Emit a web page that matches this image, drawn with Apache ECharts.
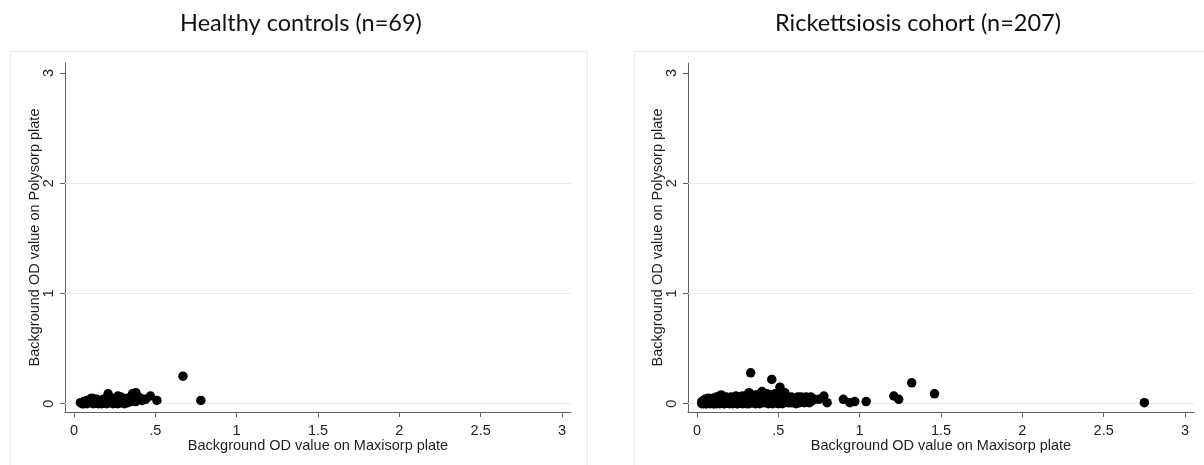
<!DOCTYPE html>
<html>
<head>
<meta charset="utf-8">
<script src="https://cdn.jsdelivr.net/npm/echarts@6/dist/echarts.min.js"></script>
<style>html,body{margin:0;padding:0;background:#fff}#c{width:1204px;height:465px}</style>
</head>
<body>
<div id="c"></div>
<script>
// ---- Data ----
const panelTitles = ['Healthy controls (n=69)', 'Rickettsiosis cohort (n=207)'];
const xAxisTitle = 'Background OD value on Maxisorp plate';
const yAxisTitle = 'Background OD value on Polysorp plate';
const xTicks = [0, 0.5, 1, 1.5, 2, 2.5, 3];
const yTicks = [0, 1, 2, 3];
const gridValues = [0, 1, 2];

const healthyPoints = [
  [0.04,0.01],[0.05,0.00],[0.06,0.02],[0.07,0.01],[0.08,0.03],[0.08,0.00],[0.09,0.02],[0.10,0.04],[0.10,0.01],[0.11,0.05],
  [0.11,0.02],[0.12,0.00],[0.12,0.03],[0.13,0.01],[0.14,0.02],[0.14,0.04],[0.15,0.00],[0.15,0.02],[0.16,0.01],[0.17,0.03],
  [0.17,0.00],[0.18,0.02],[0.18,0.04],[0.19,0.01],[0.19,0.03],[0.20,0.00],[0.20,0.05],[0.21,0.09],[0.21,0.02],[0.22,0.01],
  [0.22,0.04],[0.23,0.02],[0.24,0.00],[0.24,0.03],[0.25,0.01],[0.25,0.05],[0.26,0.02],[0.27,0.07],[0.27,0.00],[0.28,0.03],
  [0.28,0.05],[0.29,0.01],[0.30,0.02],[0.30,0.04],[0.31,0.00],[0.32,0.02],[0.32,0.03],[0.33,0.01],[0.33,0.05],[0.34,0.04],
  [0.35,0.02],[0.35,0.06],[0.36,0.09],[0.36,0.03],[0.37,0.05],[0.38,0.10],[0.38,0.02],[0.39,0.07],[0.40,0.04],[0.41,0.05],
  [0.42,0.03],[0.44,0.04],[0.47,0.07],[0.51,0.03],[0.67,0.25],[0.78,0.03],[0.13,0.04],[0.29,0.06],[0.06,0.00]
];

const rickettsiosisPoints = [
  [0.33,0.28],[0.46,0.22],[0.51,0.15],[0.54,0.10],[0.90,0.04],[0.94,0.01],[0.97,0.02],[1.04,0.02],[1.21,0.07],[1.24,0.04],
  [1.32,0.19],[1.46,0.09],[2.75,0.01],[0.78,0.07],[0.80,0.01],[0.75,0.04],
  [0.03,0.00],[0.03,0.02],[0.04,0.01],[0.04,0.03],[0.04,0.00],[0.05,0.02],[0.05,0.04],[0.06,0.00],[0.06,0.03],[0.06,0.01],
  [0.07,0.02],[0.07,0.05],[0.08,0.01],[0.08,0.03],[0.08,0.00],[0.09,0.04],[0.09,0.02],[0.10,0.00],[0.10,0.05],[0.10,0.02],
  [0.11,0.03],[0.11,0.01],[0.12,0.06],[0.12,0.02],[0.12,0.00],[0.13,0.04],[0.13,0.01],[0.14,0.02],[0.14,0.07],[0.14,0.00],
  [0.15,0.08],[0.15,0.03],[0.16,0.01],[0.16,0.05],[0.16,0.02],[0.17,0.03],[0.17,0.00],[0.18,0.06],[0.18,0.02],[0.18,0.04],
  [0.19,0.01],[0.19,0.03],[0.20,0.05],[0.20,0.00],[0.20,0.02],[0.21,0.04],[0.21,0.06],[0.22,0.01],[0.22,0.03],[0.22,0.00],
  [0.23,0.05],[0.23,0.02],[0.24,0.07],[0.24,0.01],[0.24,0.03],[0.25,0.04],[0.25,0.00],[0.26,0.02],[0.26,0.06],[0.26,0.05],
  [0.27,0.01],[0.27,0.03],[0.28,0.04],[0.28,0.00],[0.28,0.07],[0.29,0.02],[0.29,0.05],[0.30,0.03],[0.30,0.01],[0.30,0.06],
  [0.31,0.08],[0.31,0.02],[0.32,0.10],[0.32,0.04],[0.32,0.00],[0.33,0.05],[0.33,0.02],[0.34,0.07],[0.34,0.01],[0.34,0.03],
  [0.35,0.06],[0.35,0.04],[0.36,0.02],[0.36,0.08],[0.36,0.00],[0.37,0.05],[0.37,0.03],[0.38,0.07],[0.38,0.01],[0.38,0.04],
  [0.39,0.09],[0.39,0.02],[0.40,0.11],[0.40,0.05],[0.40,0.03],[0.41,0.08],[0.41,0.01],[0.42,0.06],[0.42,0.04],[0.42,0.02],
  [0.43,0.09],[0.43,0.03],[0.44,0.07],[0.44,0.00],[0.44,0.05],[0.45,0.04],[0.45,0.08],[0.46,0.02],[0.46,0.06],[0.46,0.03],
  [0.47,0.05],[0.47,0.01],[0.48,0.09],[0.48,0.03],[0.48,0.06],[0.49,0.04],[0.49,0.02],[0.50,0.07],[0.50,0.00],[0.50,0.05],
  [0.51,0.03],[0.51,0.08],[0.52,0.06],[0.52,0.02],[0.52,0.04],[0.53,0.05],[0.53,0.01],[0.54,0.03],[0.54,0.06],[0.55,0.04],
  [0.55,0.02],[0.56,0.05],[0.56,0.01],[0.56,0.03],[0.57,0.02],[0.57,0.04],[0.58,0.06],[0.58,0.03],[0.59,0.01],[0.59,0.04],
  [0.60,0.05],[0.60,0.02],[0.61,0.03],[0.61,0.00],[0.62,0.06],[0.62,0.02],[0.63,0.04],[0.63,0.01],[0.64,0.06],[0.64,0.03],
  [0.65,0.02],[0.65,0.04],[0.66,0.05],[0.66,0.01],[0.67,0.03],[0.67,0.06],[0.68,0.02],[0.68,0.04],[0.69,0.05],[0.69,0.01],
  [0.70,0.06],[0.70,0.02],[0.71,0.03],[0.72,0.04],
  [0.035,0.01],[0.055,0.00],[0.065,0.02],[0.085,0.01],[0.095,0.03],[0.105,0.00],[0.125,0.02],[0.145,0.01],[0.165,0.00],
  [0.185,0.02],[0.205,0.01],[0.225,0.03],[0.245,0.00],[0.265,0.02],[0.285,0.01],[0.305,0.00],[0.325,0.02],[0.345,0.01],
  [0.365,0.03],[0.385,0.00],[0.405,0.02],[0.425,0.01],[0.445,0.02],[0.465,0.00],[0.485,0.01],[0.525,0.00],[0.575,0.01]
];

// ---- Chart ----
const chart = echarts.init(document.getElementById('c'), null, {renderer: 'canvas'});
const axisFont = 'Liberation Sans, Arial, sans-serif';
const axisColor = '#5f5f5f';
const textColor = '#1e1e1e';
const gridColor = '#e4edf0';

function xAxisFor(i) {
  return {
    type: 'value', gridIndex: i, min: -0.055, max: 3.055,
    axisLine: {show: true, onZero: false, lineStyle: {color: axisColor, width: 1}},
    axisTick: {show: true, customValues: xTicks, length: 5, lineStyle: {color: axisColor}},
    axisLabel: {customValues: xTicks, margin: 11, color: textColor, fontFamily: axisFont, fontSize: 14.5,
      formatter: v => String(v).replace(/^0\./, '.')},
    splitLine: {show: false},
    name: xAxisTitle, nameLocation: 'middle', nameGap: 26, nameMoveOverlap: false,
    nameTextStyle: {color: textColor, fontFamily: axisFont, fontSize: 14.5}
  };
}
function yAxisFor(i) {
  return {
    type: 'value', gridIndex: i, min: -0.075, max: 3.09,
    axisLine: {show: true, onZero: false, lineStyle: {color: axisColor, width: 1}},
    axisTick: {show: true, customValues: yTicks, length: 5, lineStyle: {color: axisColor}},
    axisLabel: {customValues: yTicks, rotate: 90, margin: 9, color: textColor, fontFamily: axisFont, fontSize: 14.5},
    splitLine: {show: false},
    name: yAxisTitle, nameLocation: 'middle', nameGap: 23, nameRotate: 90, nameMoveOverlap: false,
    nameTextStyle: {color: textColor, fontFamily: axisFont, fontSize: 14.5}
  };
}
function seriesFor(i, pts) {
  return {
    type: 'scatter', xAxisIndex: i, yAxisIndex: i, data: pts,
    symbol: 'circle', symbolSize: 9.5, itemStyle: {color: '#000', opacity: 1},
    silent: true, animation: false,
    markLine: {
      z: 1, silent: true, symbol: 'none', animation: false, label: {show: false},
      lineStyle: {type: 'solid', color: gridColor, width: 1},
      data: gridValues.map(v => ({yAxis: v}))
    }
  };
}

const titleStyle = {fontFamily: 'Lato, Open Sans, sans-serif', fontWeight: 'normal', fontSize: 23.5, color: '#111'};
chart.setOption({
  animation: false,
  backgroundColor: '#fff',
  title: [
    {text: panelTitles[0], left: 296, top: 6, textAlign: 'center', textStyle: titleStyle},
    {text: panelTitles[1], left: 913, top: 6, textAlign: 'center', textStyle: titleStyle}
  ],
  graphic: [
    {type: 'rect', left: 8, top: 49, shape: {width: 577, height: 430}, style: {fill: null, stroke: '#e9eff1', lineWidth: 1}, z: -1, silent: true},
    {type: 'rect', left: 632, top: 49, shape: {width: 577, height: 430}, style: {fill: null, stroke: '#e9eff1', lineWidth: 1}, z: -1, silent: true}
  ],
  grid: [
    {left: 65, top: 63, width: 506, height: 349},
    {left: 688, top: 63, width: 506, height: 349}
  ],
  xAxis: [xAxisFor(0), xAxisFor(1)],
  yAxis: [yAxisFor(0), yAxisFor(1)],
  series: [seriesFor(0, healthyPoints), seriesFor(1, rickettsiosisPoints)]
});
</script>
</body>
</html>
